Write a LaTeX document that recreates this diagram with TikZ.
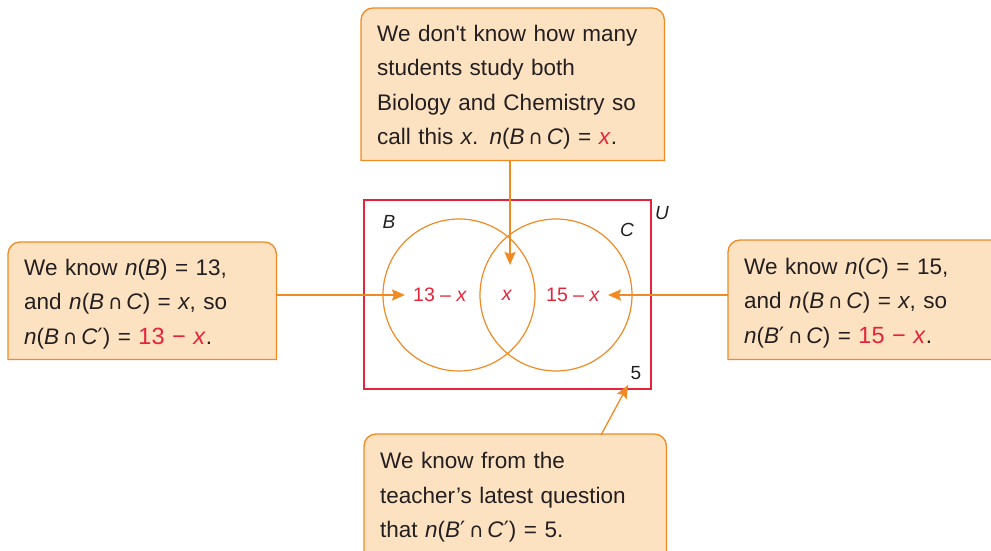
\documentclass[tikz,border=0pt]{standalone}
\usepackage{fontspec}
\setmainfont{Liberation Sans}
\newfontfamily\symf{DejaVu Sans}
\usetikzlibrary{arrows.meta,backgrounds}
\definecolor{boxfill}{HTML}{FDE2C2}
\definecolor{orng}{HTML}{F08A24}
\definecolor{redl}{HTML}{E5243B}
\definecolor{txt}{HTML}{231F20}
\newcommand{\icap}{\,{\symf\fontsize{20}{20}\selectfont ∩}\,}
\newcommand{\ipr}{{\symf ′}}
\newcommand{\rd}[1]{\textcolor{redl}{#1}}
\tikzset{
  box/.style={inner xsep=16pt, inner ysep=0pt, align=left, anchor=north west,
    text=txt, font=\fontsize{22.5}{34.5}\selectfont},
  boxline/.style={draw=orng, line width=1.3pt, fill=boxfill},
  arr/.style={draw=orng, line width=2pt, -{Stealth[length=13pt,width=11pt,inset=2pt]}},
  arrthin/.style={draw=orng, line width=1.3pt, -{Stealth[length=13pt,width=11pt,inset=2pt]}},
  lbl/.style={text=txt, font=\fontsize{19}{20}\selectfont, inner sep=0pt},
  rlbl/.style={text=redl, font=\fontsize{19.5}{20}\selectfont, inner sep=0pt},
}
\begin{document}
\begin{tikzpicture}[x=1pt,y=-1pt]
\useasboundingbox (0,0) rectangle (991,551);
% boxes (text area shifted 3pt down; frame drawn 3pt up from node)
\node[box, text width=271pt, minimum height=152pt] (top) at (361,11)
 {We don\textquotesingle t know how many\\students study both\\Biology and Chemistry so\\call this \textit{x}. \textit{n}(\textit{B}\icap\textit{C}) = \rd{\textit{x}}.};
\node[box, text width=236pt, minimum height=117pt] (left) at (8,245)
 {We know \textit{n}(\textit{B}) = 13,\\and \textit{n}(\textit{B}\icap\textit{C}) = \textit{x}, so\\\textit{n}(\textit{B}\icap\textit{C}\ipr) = \rd{\fontsize{23.5}{34.5}\selectfont 13 − \textit{x}}.};
\node[box, text width=260pt, minimum height=119pt] (right) at (728,243)
 {We know \textit{n}(\textit{C}) = 15,\\and \textit{n}(\textit{B}\icap\textit{C}) = \textit{x}, so\\\textit{n}(\textit{B}\ipr\icap\textit{C}) = \rd{\fontsize{23.5}{34.5}\selectfont 15 − \textit{x}}.};
\node[box, text width=270pt, minimum height=120pt] (bot) at (364,437)
 {We know from the\\teacher’s latest question\\that \textit{n}(\textit{B}\ipr\icap\textit{C}\ipr) = 5.};
\begin{scope}[on background layer]
\foreach \n in {top,left,right,bot}{
  \path[boxline] ([yshift=3pt]\n.south west) -- ([yshift=-9pt]\n.north west)
    arc[start angle=180,end angle=90,radius=12pt]
    -- ([xshift=-12pt,yshift=3pt]\n.north east)
    arc[start angle=90,end angle=0,radius=12pt]
    -- ([yshift=3pt]\n.south east) -- cycle;
}
\end{scope}
% venn
\node[draw=redl, line width=1.3pt, minimum width=287pt, minimum height=189pt, inner sep=0pt] (U) at (507.5,294.5) {};
\node[draw=orng, line width=1.2pt, circle, minimum size=152pt, inner sep=0pt] (cb) at (459,295) {};
\node[draw=orng, line width=1.2pt, circle, minimum size=152pt, inner sep=0pt] (cc) at (556,295) {};
\node[lbl] (lb) at (389,222) {\textit{B}};
\node[lbl] (lc) at (627,230) {\textit{C}};
\node[lbl] (lu) at (662,213) {\textit{U}};
\node[lbl] (l5) at (636,373) {5};
\node[rlbl] (v1) at (440,295) {13 – \textit{x}};
\node[rlbl] (v2) at (507,295) {\textit{x}};
\node[rlbl] (v3) at (573,295) {15 – \textit{x}};
% arrows
\coordinate (tx) at (510,265);
\coordinate (tl) at (405,295);
\coordinate (tr) at (608,295);
\coordinate (tb) at (628,385);
\coordinate (sb) at (601,435);
\draw[arr] ([yshift=3pt]top.south -| tx) -- (tx);
\draw[arr] (left.east |- tl) -- (tl);
\draw[arr] (right.west |- tr) -- (tr);
\draw[arrthin] (sb) -- (tb);
\end{tikzpicture}
\end{document}
